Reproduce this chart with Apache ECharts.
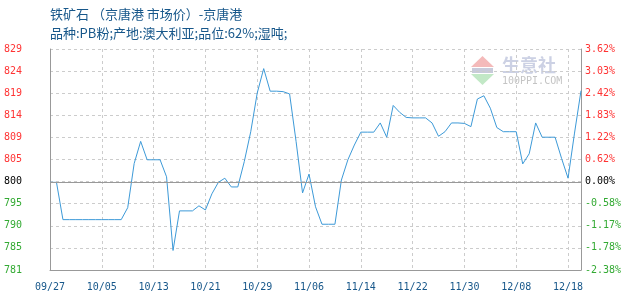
<!DOCTYPE html>
<html><head><meta charset="utf-8">
<script src="https://cdn.jsdelivr.net/npm/echarts@6/dist/echarts.min.js"></script>
<style>html,body{margin:0;padding:0;background:#fff}#c{width:630px;height:300px}</style>
</head><body><div id="c"></div>
<script>
var titleLine1 = '铁矿石 （京唐港 市场价）-京唐港';
var titleLine2 = '品种:PB粉;产地:澳大利亚;品位:62%;湿吨;';
var categories = ['09/27','09/28','09/29','09/30','10/01','10/02','10/03','10/04','10/05','10/06','10/07','10/08','10/09','10/10','10/11','10/12','10/13','10/14','10/15','10/16','10/17','10/18','10/19','10/20','10/21','10/22','10/23','10/24','10/25','10/26','10/27','10/28','10/29','10/30','10/31','11/01','11/02','11/03','11/04','11/05','11/06','11/07','11/08','11/09','11/10','11/11','11/12','11/13','11/14','11/15','11/16','11/17','11/18','11/19','11/20','11/21','11/22','11/23','11/24','11/25','11/26','11/27','11/28','11/29','11/30','12/01','12/02','12/03','12/04','12/05','12/06','12/07','12/08','12/09','12/10','12/11','12/12','12/13','12/16','12/17','12/18','12/19','12/20'];
var prices = [800,800,791.9,791.9,791.9,791.9,791.9,791.9,791.9,791.9,791.9,791.9,794.5,804.1,808.9,804.9,804.9,804.9,801.2,785.2,793.8,793.8,793.8,794.9,794.0,797.5,800.0,800.9,799.0,799.0,804.5,811.0,819.4,824.7,819.8,819.8,819.7,819.2,808.9,797.7,801.8,794.7,790.9,790.9,790.9,800.5,804.9,808.1,810.9,810.9,810.9,812.9,809.8,816.7,815.2,814.1,814.0,814.0,814.0,812.9,810.0,811.0,812.9,812.9,812.8,812.1,818.1,818.8,816.1,811.9,811.0,811.0,811.0,804.0,806.2,812.9,809.8,809.8,809.8,805.2,800.9,810.7,819.9];
var leftTickLabels = ['781','785','790','795','800','805','809','814','819','824','829'];
var rightTickLabels = ['-2.38%','-1.78%','-1.17%','-0.58%','0.00%','0.62%','1.22%','1.83%','2.42%','3.03%','3.62%'];
var baseValue = 800;
var axisMin = 780.96, axisMax = 828.96, axisStep = 4.8;

function tickIndex(v){ return Math.round((v - axisMin) / axisStep); }
function styled(list){
  return function(v){
    var i = tickIndex(v);
    var s = list[i];
    if (s === undefined) return '';
    var k = i > 4 ? 'r' : (i < 4 ? 'g' : 'k');
    return '{' + k + '|' + s + '}';
  };
}
var rich = {
  r:{color:'#ff3333',fontFamily:'DejaVu Sans Mono',fontSize:10},
  g:{color:'#33aa33',fontFamily:'DejaVu Sans Mono',fontSize:10},
  k:{color:'#000000',fontFamily:'DejaVu Sans Mono',fontSize:10}
};
var chart = echarts.init(document.getElementById('c'));
chart.setOption({
  animation:false,
  backgroundColor:'#fff',
  grid:{left:50,right:49,top:49,bottom:30},
  graphic:[
    {type:'text',left:50,top:8,style:{text:titleLine1,fill:'#17578a',font:'13px "Noto Sans CJK SC"'}},
    {type:'text',left:50,top:27,style:{text:titleLine2,fill:'#17578a',font:'13px "Noto Sans CJK SC"'}},
    {type:'polygon',shape:{points:[[482.5,56],[494,67],[471,67]]},style:{fill:'#f4baba'},silent:true,z:0},
    {type:'rect',shape:{x:472,y:68,width:21,height:5},style:{fill:'#c8cbdb'},silent:true,z:0},
    {type:'polygon',shape:{points:[[471,74],[494,74],[482.5,85]]},style:{fill:'#c2e8c6'},silent:true,z:0},
    {type:'text',left:502,top:56,style:{text:'生意社',fill:'#ccd1e4',font:'bold 18px "Noto Sans CJK SC"'},silent:true,z:0},
    {type:'text',left:502,top:76,style:{text:'100PPI.COM',fill:'#c4c4c4',font:'10px "DejaVu Sans Mono"'},silent:true,z:0}
  ],
  xAxis:{
    type:'category',data:categories,boundaryGap:false,
    axisLine:{lineStyle:{color:'#999',width:1}},
    axisTick:{show:false},
    axisLabel:{interval:7,color:'#17578a',fontFamily:'DejaVu Sans Mono',fontSize:10,margin:12},
    splitLine:{show:true,interval:7,lineStyle:{color:'#cccccc',type:[3,3]}}
  },
  yAxis:[
    {type:'value',min:axisMin,max:axisMax,interval:axisStep,position:'left',
     axisLine:{show:true,lineStyle:{color:'#999'}},axisTick:{show:false},
     axisLabel:{formatter:styled(leftTickLabels),rich:rich,margin:28},
     splitLine:{show:true,lineStyle:{color:'#cccccc',type:[3,3]}}},
    {type:'value',min:axisMin,max:axisMax,interval:axisStep,position:'right',
     axisLine:{show:true,lineStyle:{color:'#999'}},axisTick:{show:false},
     axisLabel:{formatter:styled(rightTickLabels),rich:rich,margin:4},
     splitLine:{show:false}}
  ],
  series:[{
    type:'line',data:prices,yAxisIndex:0,showSymbol:false,symbol:'none',smooth:false,
    lineStyle:{color:'#3d9ad8',width:1},
    markLine:{silent:true,symbol:'none',label:{show:false},
      lineStyle:{color:'#999',type:'solid',width:1},data:[{yAxis:baseValue}]}
  }]
});
</script></body></html>
